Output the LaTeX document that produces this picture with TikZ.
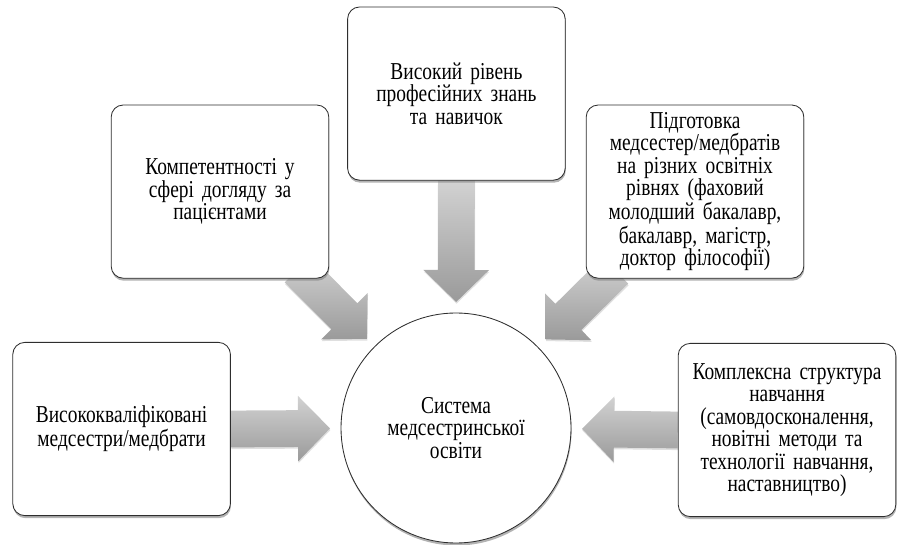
\documentclass[tikz,border=0pt]{standalone}
\usepackage{fontspec}
\setmainfont{Liberation Serif}[FakeStretch=0.8]
\usetikzlibrary{calc, shadows, backgrounds}
\definecolor{cline}{HTML}{2E2E2E}
\definecolor{clight}{HTML}{D2D2D2}
\definecolor{cdark}{HTML}{9A9A9A}
\newcommand{\boxfont}{\fontsize{17.25}{16}\selectfont\spaceskip=0.19em plus 0.05em\relax}
\tikzset{
  every picture/.style={line width=0.6pt},
  box/.style={draw=cline, fill=white, rounded corners=0.3cm, align=center, inner sep=2pt, text width=5.3cm, minimum width=5.43cm, minimum height=4.33cm, font=\boxfont, drop shadow={shadow xshift=0.4pt, shadow yshift=-1.8pt, opacity=0.6}},
  hub/.style={circle, draw=cline, fill=white, minimum size=5.75cm, align=center, font=\boxfont, drop shadow={shadow xshift=0.4pt, shadow yshift=-1.8pt, opacity=0.6}},
  flow/.style={top color=clight, bottom color=cdark, drop shadow={shadow xshift=0.3pt, shadow yshift=-1.2pt, opacity=0.25}},
}
% block arrow from a box towards the hub: #1 source box, #2 start of the shaft
\newcommand{\feed}[2]{%
  \coordinate (tail) at (#2);
  \coordinate (tip) at ($(sys.center)!3.15cm!(#1.center)$);
  \coordinate (hb) at ($(tip)!0.8cm!(tail)$);
  \path[flow] ($(tail)!0.46cm!90:(tip)$) -- ($(hb)!0.46cm!90:(tip)$) -- ($(hb)!0.82cm!90:(tip)$) -- (tip)
    -- ($(hb)!0.82cm!-90:(tip)$) -- ($(hb)!0.46cm!-90:(tip)$) -- ($(tail)!0.46cm!-90:(tip)$) -- cycle;
}

\begin{document}
\begin{tikzpicture}
  \useasboundingbox (0,0) rectangle (22.525,13.6);
  % ---- hub ----
  \node[hub] (sys) at (11.4,2.9) {Система\\медсестринської\\освіти};
  % ---- boxes round it ----
  \node[box] (skills) at (11.41,11.26) {Високий рівень\\професійних знань\\та навичок\\[0.25cm]};
  \node[box] (care) at (5.5,8.81) {Компетентності у\\сфері догляду за\\пацієнтами};
  \node[box] (levels) at (17.375,8.81) {Підготовка\\медсестер/медбратів\\на різних освітніх\\рівнях (фаховий\\молодший бакалавр,\\бакалавр, магістр,\\доктор філософії)};
  \node[box] (nurses) at (3.04,2.875) {Висококваліфіковані\\медсестри/медбрати};
  \node[box] (learning) at (19.675,2.85) {Комплексна структура\\навчання\\(самовдосконалення,\\новітні методи та\\технології навчання,\\наставництво)};
  % ---- arrows into the hub ----
  \begin{scope}[on background layer]
  \feed{skills}{skills.south} \feed{nurses}{nurses.east} \feed{learning}{learning.west}
  \feed{care}{$(sys.center)!5.6cm!(care.center)$}
  \feed{levels}{$(sys.center)!5.6cm!(levels.center)$}
  \end{scope}
\end{tikzpicture}
\end{document}
